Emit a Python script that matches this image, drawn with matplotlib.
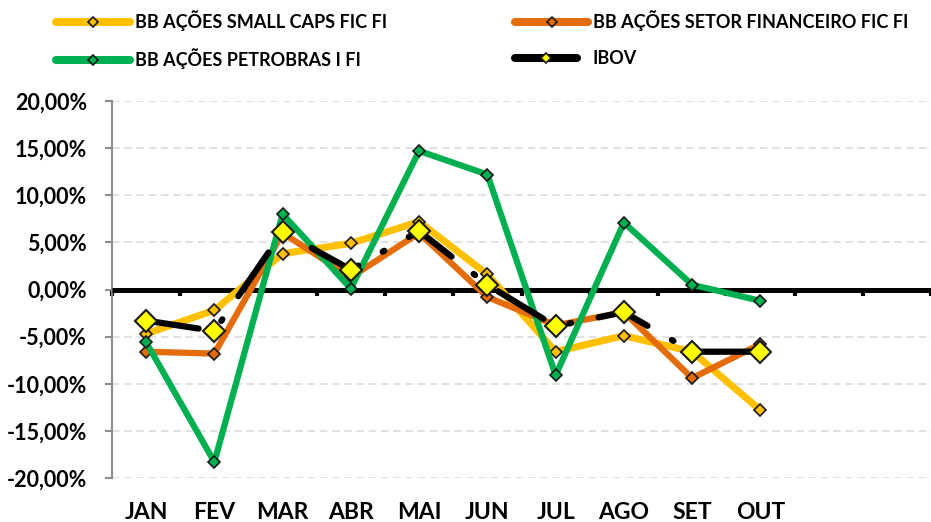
import matplotlib
matplotlib.use("Agg")
import matplotlib.pyplot as plt
from matplotlib.lines import Line2D
from matplotlib.ticker import FuncFormatter, FixedLocator

months = ["JAN", "FEV", "MAR", "ABR", "MAI", "JUN", "JUL", "AGO", "SET", "OUT"]
n_slots = 12
small_caps = [-4.7, -2.2, 3.8, 4.9, 7.2, 1.6, -6.6, -4.9, -6.6, -12.8]
setor_fin = [-6.6, -6.8, 6.0, 1.3, 6.0, -0.8, -3.8, -2.4, -9.4, -5.8]
petrobras = [-5.6, -18.3, 8.0, 0.1, 14.7, 12.2, -9.1, 7.1, 0.5, -1.2]
ibov = [-3.3, -4.4, 6.1, 2.1, 6.2, 0.5, -3.9, -2.4, -6.6, -6.6]
y_ticks = [-20, -15, -10, -5, 0, 5, 10, 15, 20]
names = ["BB AÇÕES SMALL CAPS FIC FI", "BB AÇÕES SETOR FINANCEIRO FIC FI",
         "BB AÇÕES PETROBRAS I FI", "IBOV"]

C_SC = "#FFC000"
C_SF = "#E46C0A"
C_PB = "#00B050"
C_IB = "#000000"
C_IBM = "#FFFF00"

FONT = "Lato"
plt.rcParams["font.family"] = [FONT, "DejaVu Sans"]
plt.rcParams["font.weight"] = "bold"

W, H = 931, 522
fig = plt.figure(figsize=(W / 100, H / 100), dpi=100)
ax = fig.add_axes([112 / W, (H - 478) / H, 819 / W, 377 / H])

x = list(range(len(months)))
ax.set_xlim(-0.5, n_slots - 0.5)
ax.set_ylim(-20, 20)

# gridlines
for v in y_ticks:
    if v != 0:
        ax.axhline(v, color="#D9D9D9", lw=1.1, ls=(0, (5, 3)), zorder=1)

lw = 4.5
ax.plot(x, small_caps, color=C_SC, lw=lw + 0.6, marker="D", ms=6.6, mfc=C_SC,
        mec="#1a1a1a", mew=1.2, solid_joinstyle="round", zorder=3)
ax.plot(x, setor_fin, color=C_SF, lw=lw, marker="D", ms=6.6, mfc=C_SF,
        mec="#1a1a1a", mew=1.2, solid_joinstyle="round", zorder=4)
ax.plot(x, petrobras, color=C_PB, lw=lw, marker="D", ms=6.6, mfc=C_PB,
        mec="#1a1a1a", mew=1.2, solid_joinstyle="round", zorder=5)
ax.plot(x, ibov, color=C_IB, lw=lw, ls=(0, (8.5, 4.5, 0.3, 4.5)),
        dash_capstyle="round", marker="D", ms=11.5, mfc=C_IBM, mec="#1a1a1a",
        mew=1.5, zorder=6)

# spines
for s in ["top", "right"]:
    ax.spines[s].set_visible(False)
ax.spines["left"].set_color("#8C8C8C")
ax.spines["left"].set_linewidth(1.5)
ax.spines["bottom"].set_position(("data", 0))
ax.spines["bottom"].set_linewidth(3.6)
ax.spines["bottom"].set_color("black")
ax.spines["bottom"].set_zorder(2.5)
ax.spines["bottom"].set_capstyle("butt")

ax.xaxis.set_major_locator(FixedLocator([k - 0.5 for k in range(n_slots + 1)]))
ax.tick_params(axis="x", direction="out", length=4, width=3, colors="black",
               labelbottom=False)
ax.set_yticks(y_ticks)
ax.yaxis.set_major_formatter(FuncFormatter(lambda v, p: f"{v:.2f}%".replace(".", ",")))
ax.tick_params(axis="y", direction="out", length=5, width=1.5, color="#8C8C8C",
               labelsize=15.5, pad=13, labelcolor="black")
for t in ax.get_yticklabels():
    t.set_fontweight("bold")

sec = ax.secondary_xaxis("bottom")
sec.spines["bottom"].set_visible(False)
sec.set_xticks(x)
sec.set_xticklabels(months, fontsize=16.5, fontweight="bold")
sec.tick_params(length=0, pad=17)

# legend
fs = 13
fs_px = fs * 100 / 72
entries = [
    (names[0], C_SC, C_SC, 56, 21, 74, 135),
    (names[1], C_SF, C_SF, 515, 21, 73, 593),
    (names[2], C_PB, C_PB, 56, 59, 74, 135),
    (names[3], C_IB, C_IBM, 515, 59, 62, 593),
]
for lab, col, mfc, px, py, hl, tx in entries:
    h = Line2D([], [], color=col, lw=5.8, solid_capstyle="round", marker="D",
               ms=5, mfc=mfc, mec="#1a1a1a", mew=1.2)
    textpad = (tx - px - hl) / fs_px
    fig.legend([h], [lab], loc="center left",
               bbox_to_anchor=(px / W, 1 - py / H), frameon=False,
               borderpad=0, borderaxespad=0, handlelength=hl / fs_px,
               handletextpad=textpad,
               prop={"family": [FONT, "DejaVu Sans"], "weight": "bold", "size": fs})

fig.savefig("out.png", dpi=100)
